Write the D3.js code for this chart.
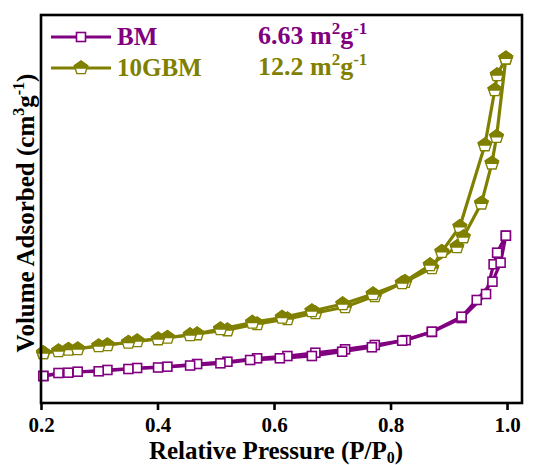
<!DOCTYPE html>
<html>
<head>
<meta charset="utf-8">
<script src="https://cdn.jsdelivr.net/npm/d3@7"></script>
<style>
  html, body { margin: 0; padding: 0; background: #ffffff; }
  svg { display: block; }
  text { font-family: "Liberation Serif", "Times New Roman", serif; font-weight: bold; }
</style>
</head>
<body>
<script>
// ---------- data (volume in arbitrary units) ----------
const xTicks = [0.2, 0.4, 0.6, 0.8, 1.0];
const seriesNames = ["BM", "10GBM"];
const seriesAreas = ["6.63", "12.2"];
const seriesColors = ["#800080", "#808000"];

const bmAdsP = [0.204, 0.230, 0.263, 0.299, 0.350, 0.401, 0.456, 0.508, 0.559, 0.610, 0.665, 0.717, 0.768, 0.820, 0.871, 0.922, 0.948, 0.975, 0.989, 0.998];
const bmAdsV = [6.96, 7.73, 8.07, 8.17, 8.76, 9.15, 9.66, 10.23, 11.08, 11.52, 12.11, 13.22, 14.36, 16.06, 18.38, 22.24, 26.55, 31.27, 36.16, 43.12];
const bmDesP = [0.998, 0.983, 0.977, 0.964, 0.922, 0.871, 0.826, 0.773, 0.722, 0.671, 0.623, 0.571, 0.520, 0.468, 0.417, 0.365, 0.314, 0.247, 0.204];
const bmDesV = [43.12, 38.74, 35.75, 28.09, 21.90, 18.30, 16.20, 14.95, 13.84, 12.96, 12.11, 11.52, 10.64, 10.05, 9.36, 9.02, 8.51, 7.81, 6.96];

const gbmAdsP = [0.204, 0.230, 0.263, 0.299, 0.350, 0.401, 0.456, 0.508, 0.563, 0.614, 0.665, 0.718, 0.770, 0.820, 0.868, 0.914, 0.925, 0.956, 0.974, 0.982, 0.998];
const gbmAdsV = [12.89, 13.40, 13.92, 14.69, 15.59, 16.49, 17.53, 19.07, 20.75, 22.04, 23.71, 25.52, 28.09, 30.93, 35.57, 40.21, 42.78, 51.47, 61.78, 68.63, 88.84];
const gbmDesP = [0.998, 0.983, 0.979, 0.962, 0.919, 0.888, 0.871, 0.825, 0.773, 0.722, 0.671, 0.623, 0.571, 0.520, 0.468, 0.417, 0.365, 0.314, 0.247, 0.204];
const gbmDesV = [88.84, 84.54, 80.67, 66.49, 45.44, 39.00, 34.80, 31.26, 27.58, 24.74, 23.20, 21.65, 20.36, 18.81, 17.78, 16.88, 15.98, 14.95, 13.79, 12.89];

// ---------- layout ----------
const W = 538, H = 465;
const M = { left: 41, right: 522, top: 15, bottom: 403 };

const svg = d3.select("body").append("svg").attr("width", W).attr("height", H);

const x = d3.scaleLinear().domain([0.2, 1.0257]).range([M.left, M.right]);
const y = d3.scaleLinear().domain([0, 100]).range([M.bottom, M.top]);

const zip = (P, V) => P.map((p, i) => [p, V[i]]);
const line = d3.line().x(d => x(d[0])).y(d => y(d[1]));

// pentagon helpers
function pentPts(r) {
  const pts = [];
  for (let k = 0; k < 5; k++) {
    const a = -Math.PI / 2 + k * 2 * Math.PI / 5;
    pts.push([r * Math.cos(a), r * Math.sin(a)]);
  }
  return pts;
}
function pentPath(r) {
  return "M" + pentPts(r).map(p => p.join(",")).join("L") + "Z";
}
function pentTopPath(r) {
  const p = pentPts(r);
  const t = (0 - p[1][1]) / (p[2][1] - p[1][1]);
  const xr = p[1][0] + t * (p[2][0] - p[1][0]);
  return `M${p[0][0]},${p[0][1]}L${p[1][0]},${p[1][1]}L${xr},0L${-xr},0L${p[4][0]},${p[4][1]}Z`;
}

function drawSquare(g, cx, cy, color, s) {
  g.append("rect").attr("x", cx - s / 2).attr("y", cy - s / 2)
    .attr("width", s).attr("height", s)
    .attr("fill", "#ffffff").attr("stroke", color).attr("stroke-width", 1.6);
}
function drawPent(g, cx, cy, color, r) {
  const m = g.append("g").attr("transform", `translate(${cx},${cy})`);
  m.append("path").attr("d", pentPath(r)).attr("fill", "#ffffff").attr("stroke", color).attr("stroke-width", 1.4);
  m.append("path").attr("d", pentTopPath(r)).attr("fill", color).attr("stroke", color).attr("stroke-width", 1.4);
}

// ---------- series ----------
const plot = svg.append("g");

function drawSeries(ads, des, color, marker) {
  plot.append("path").datum(ads).attr("d", line).attr("fill", "none")
    .attr("stroke", color).attr("stroke-width", 3.2).attr("stroke-linejoin", "round");
  plot.append("path").datum(des).attr("d", line).attr("fill", "none")
    .attr("stroke", color).attr("stroke-width", 3.2).attr("stroke-linejoin", "round");
  des.concat(ads).forEach(d => {
    if (marker === "square") drawSquare(plot, x(d[0]), y(d[1]), color, 9);
    else drawPent(plot, x(d[0]), y(d[1]), color, 7);
  });
}

drawSeries(zip(gbmAdsP, gbmAdsV), zip(gbmDesP, gbmDesV), seriesColors[1], "pent");
drawSeries(zip(bmAdsP, bmAdsV), zip(bmDesP, bmDesV), seriesColors[0], "square");

// ---------- frame & axis ----------
svg.append("rect").attr("x", M.left).attr("y", M.top)
  .attr("width", M.right - M.left).attr("height", M.bottom - M.top)
  .attr("fill", "none").attr("stroke", "#000").attr("stroke-width", 2.6);

const xAxis = d3.axisBottom(x).tickValues(xTicks).tickFormat(d3.format(".1f"))
  .tickSize(7).tickSizeOuter(0);
const ax = svg.append("g").attr("transform", `translate(0,${M.bottom})`).call(xAxis);
ax.select(".domain").remove();
ax.selectAll(".tick line").attr("stroke", "#000").attr("stroke-width", 2.6);
ax.selectAll(".tick text").attr("fill", "#000").attr("font-size", 21)
  .attr("dy", null).attr("y", 29);

// x title
const xt = svg.append("text").attr("x", 276).attr("y", 459).attr("text-anchor", "middle")
  .attr("font-size", 25).attr("fill", "#000");
xt.append("tspan").text("Relative Pressure (P/P");
xt.append("tspan").attr("font-size", 16).attr("dy", 4).text("0");
xt.append("tspan").attr("dy", -4).text(")");

// y title
const yt = svg.append("text").attr("transform", "translate(34,213) rotate(-90)")
  .attr("text-anchor", "middle").attr("font-size", 25).attr("fill", "#000");
yt.append("tspan").text("Volume Adsorbed (cm");
yt.append("tspan").attr("font-size", 16).attr("dy", -10).text("3");
yt.append("tspan").attr("dy", 10).text("g");
yt.append("tspan").attr("font-size", 16).attr("dy", -10).text("-1");
yt.append("tspan").attr("dy", 10).text(")");

// ---------- legend ----------
const legY = [37, 68];
seriesNames.forEach((name, i) => {
  const c = seriesColors[i];
  svg.append("line").attr("x1", 51).attr("x2", 111).attr("y1", legY[i]).attr("y2", legY[i])
    .attr("stroke", c).attr("stroke-width", 3);
  if (i === 0) drawSquare(svg, 81, legY[i], c, 9);
  else drawPent(svg, 81, legY[i], c, 7);
  svg.append("text").attr("x", 117).attr("y", legY[i] + 8).attr("font-size", 25)
    .attr("fill", c).text(name);
  const t = svg.append("text").attr("x", 258).attr("y", legY[i] + 7).attr("font-size", 26).attr("fill", c);
  t.append("tspan").text(seriesAreas[i] + " m");
  t.append("tspan").attr("font-size", 17).attr("dy", -10).text("2");
  t.append("tspan").attr("dy", 10).text("g");
  t.append("tspan").attr("font-size", 17).attr("dy", -10).text("-1");
});
</script>
</body>
</html>
